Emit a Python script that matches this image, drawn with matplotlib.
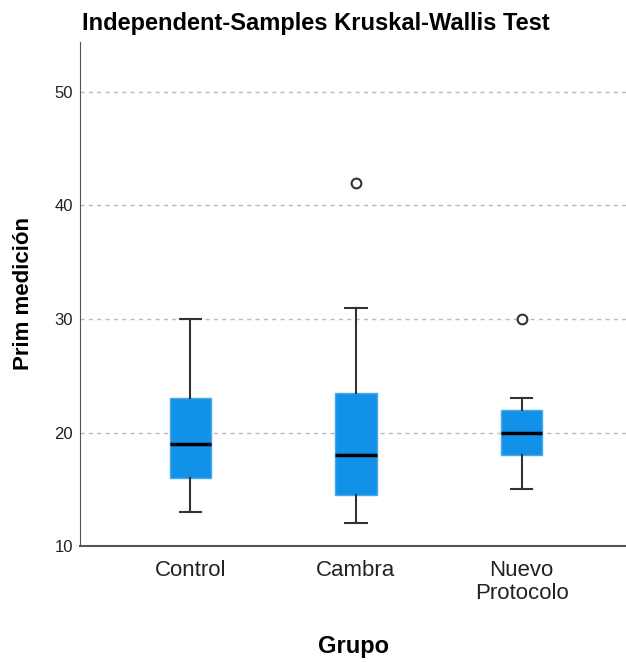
import matplotlib
matplotlib.use("Agg")
import matplotlib.pyplot as plt

plt.rcParams['font.family'] = ['Liberation Sans', 'DejaVu Sans']

groups = ['Control', 'Cambra', 'Nuevo\nProtocolo']
whislo = [13, 12, 15]
q1 = [16, 14.5, 18]
med = [19, 18, 20]
q3 = [23, 23.5, 22]
whishi = [30, 31, 23]
fliers = [[], [42], [30]]

stats = []
for i in range(len(groups)):
    stats.append(dict(label=groups[i], whislo=whislo[i], q1=q1[i], med=med[i],
                      q3=q3[i], whishi=whishi[i], fliers=fliers[i]))

fig = plt.figure(figsize=(6.26, 6.62), dpi=100)
ax = fig.add_axes([0.128, 0.175, 0.872, 0.762])

ax.bxp(stats, positions=[1, 2, 3], widths=0.25, patch_artist=True,
       boxprops=dict(facecolor='#1192e8', edgecolor='#4aa8ee', linewidth=1),
       medianprops=dict(color='black', linewidth=2.5),
       whiskerprops=dict(color='#333333', linewidth=1.5),
       capprops=dict(color='#333333', linewidth=1.5),
       capwidths=0.13,
       flierprops=dict(marker='o', markerfacecolor='white', markeredgecolor='#333333',
                       markersize=7, markeredgewidth=1.5))

ax.set_xlim(0.335, 3.63)
ax.set_ylim(10, 54.4)
ax.set_yticks([10, 20, 30, 40, 50])
for y in [20, 30, 40, 50]:
    ax.axhline(y, color='#bbbbbb', linestyle=(0, (3, 3)), linewidth=1, zorder=0)

ax.spines['top'].set_visible(False)
ax.spines['right'].set_visible(False)
ax.spines['left'].set_color('#555555')
ax.spines['bottom'].set_color('#555555')
ax.spines['bottom'].set_linewidth(1.5)
ax.tick_params(axis='both', length=0)
ax.tick_params(axis='y', labelsize=12, pad=5, labelcolor='#222222')
ax.tick_params(axis='x', labelsize=16, pad=10, labelcolor='#222222')
for lab in ax.get_xticklabels():
    lab.set_linespacing(1.15)

ax.set_ylabel('Prim medición', fontsize=16, fontweight='bold', labelpad=15)
ax.set_xlabel('Grupo', fontsize=17, fontweight='bold', labelpad=22)
fig.text(0.131, 0.965, 'Independent-Samples Kruskal-Wallis Test', fontsize=17,
         fontweight='bold', ha='left', va='center')

fig.savefig('out.png', dpi=100)
